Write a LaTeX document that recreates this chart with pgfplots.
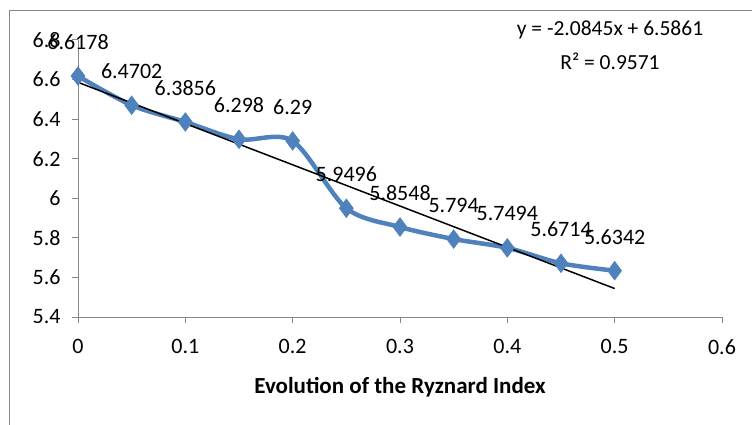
\documentclass[border=0pt]{standalone}
\usepackage{pgfplots}
\pgfplotsset{compat=1.18}
\usepackage{fontspec}
\setmainfont{Carlito}
\definecolor{serblue}{HTML}{4F81BD}
\definecolor{axgray}{HTML}{868686}
\begin{document}
\begin{tikzpicture}
\useasboundingbox (0,0) rectangle (752bp,425bp);
\draw[axgray, line width=1bp] (9bp,0) -- (9bp,414bp) -- (752bp,414bp);
\begin{axis}[
    at={(78bp,108bp)}, anchor=south west,
    scale only axis,
    width=644bp, height=277bp,
    xmin=0, xmax=0.6, ymin=5.4, ymax=6.8,
    xtick={0,0.1,...,0.6}, ytick={5.4,5.6,...,6.8},
    axis x line*=bottom, axis y line*=left,
    axis line style={axgray, line width=1bp, -},
    tick style={axgray, line width=1bp},
    tick align=outside, major tick length=6bp,
    font=\fontsize{22bp}{24bp}\selectfont,
    /pgf/number format/assume math mode=true,
    yticklabel style={xshift=-8bp},
    xticklabel style={yshift=-13bp},
    xlabel={\textbf{Evolution of the Ryznard Index}},
    xlabel style={yshift=-16bp, font=\fontsize{23bp}{26bp}\selectfont},
    clip=false,
]
\addplot[serblue, line width=4.5bp, smooth, tension=0.5,
    mark=diamond*, mark size=9bp, mark options={fill=serblue, draw=serblue, line width=1bp},
    point meta=explicit symbolic,
    nodes near coords,
    every node near coord/.append style={anchor=center, yshift=34bp, text=black,
        font=\fontsize{22bp}{24bp}\selectfont},
] coordinates {
    (0,6.6178) [6.6178]
    (0.05,6.4702) [6.4702]
    (0.1,6.3856) [6.3856]
    (0.15,6.298) [6.298]
    (0.2,6.29) [6.29]
    (0.25,5.9496) [5.9496]
    (0.3,5.8548) [5.8548]
    (0.35,5.794) [5.794]
    (0.4,5.7494) [5.7494]
    (0.45,5.6714) [5.6714]
    (0.5,5.6342) [5.6342]
};
% linear trend line
\addplot[black, line width=1.5bp] coordinates {(0,6.5861) (0.5,5.54385)};
\end{axis}
\node[font=\fontsize{21.5bp}{24bp}\selectfont] at (610bp,395bp) {y = -2.0845x + 6.5861};
\node[font=\fontsize{21.5bp}{24bp}\selectfont] at (610bp,364bp) {R² = 0.9571};
\end{tikzpicture}
\end{document}
